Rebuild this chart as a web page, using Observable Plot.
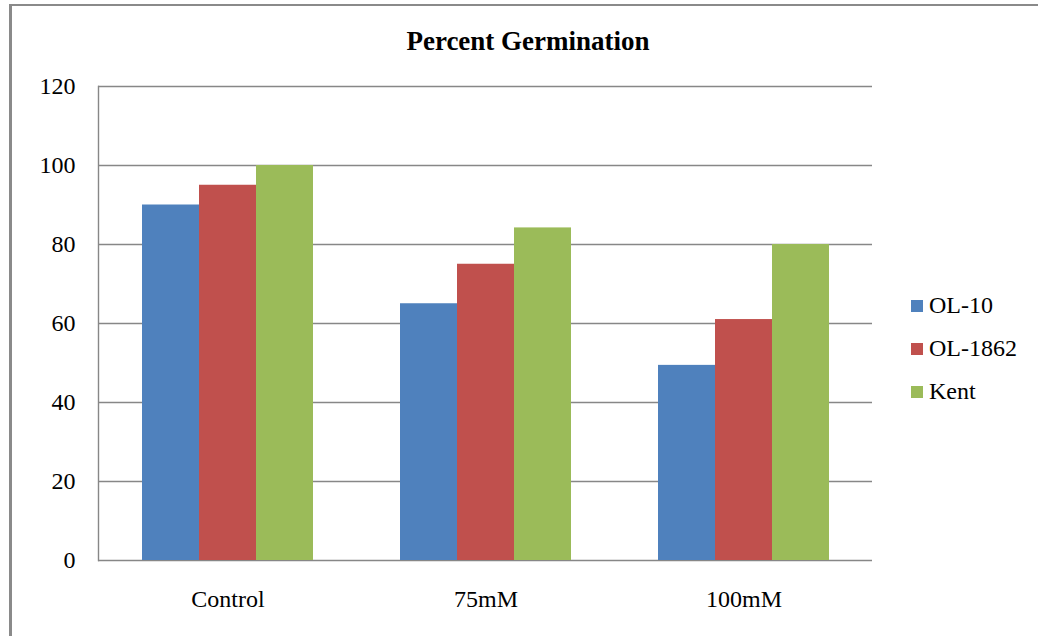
<!DOCTYPE html>
<html>
<head>
<meta charset="utf-8">
<script src="https://cdn.jsdelivr.net/npm/d3@7"></script>
<script src="https://cdn.jsdelivr.net/npm/@observablehq/plot@0.6"></script>
<style>
  html, body { margin: 0; padding: 0; background: #fff; }
  #chart { position: relative; width: 1038px; height: 636px; overflow: hidden; font-family: "Liberation Serif", "Times New Roman", serif; }
  #border { position: absolute; left: 9px; top: 4px; width: 1100px; height: 700px; border-left: 3px solid #8a8a8a; border-top: 2px solid #8a8a8a; box-sizing: border-box; }
  #title { position: absolute; left: 0; top: 28px; width: 1056px; text-align: center; font-size: 27px; line-height: 27px; font-weight: bold; color: #000; }
  #legend { position: absolute; left: 911px; top: 284px; }
  .item { display: flex; align-items: center; height: 43px; font-size: 24px; color: #000; }
  .swatch { width: 12px; height: 12px; margin-right: 6px; }
  .layer { position: absolute; left: 0; top: 0; }
</style>
</head>
<body>
<div id="chart">
  <div id="border"></div>
  <div id="grid" class="layer"></div>
  <div id="bars" class="layer"></div>
  <div id="title">Percent Germination</div>
  <div id="legend"></div>
</div>
<script>
// Treatments along the x axis and the three cultivars
const categories = ["Control", "75mM", "100mM"];
const series = ["OL-10", "OL-1862", "Kent"];
const colors = ["#4F81BD", "#C0504D", "#9BBB59"];

// Percent germination per cultivar, in treatment order
const ol10 = [90, 65, 49.4];
const ol1862 = [95, 75, 61];
const kent = [100, 84.2, 80];

const yTicks = [0, 20, 40, 60, 80, 100, 120];

const valuesBySeries = [ol10, ol1862, kent];
const rows = [];
categories.forEach((c, i) => {
  series.forEach((s, j) => rows.push({group: c, series: s, value: valuesBySeries[j][i]}));
});

const gridColor = "#878787";
const frame = {
  width: 1038,
  height: 636,
  marginLeft: 98,
  marginRight: 166,
  marginTop: 86,
  marginBottom: 76,
  style: {fontFamily: "Liberation Serif, Times New Roman, serif", fontSize: "24px", background: "transparent", color: "#000", overflow: "visible"}
};

// Back layer: gridlines, value axis and its left line
const grid = Plot.plot({
  ...frame,
  y: {domain: [0, 120], axis: null},
  marks: [
    Plot.ruleY(yTicks, {stroke: gridColor, strokeWidth: 1.4}),
    Plot.frame({anchor: "left", stroke: gridColor, strokeWidth: 1.4}),
    Plot.axisY({ticks: yTicks, tickSize: 0, tickPadding: 23, fontSize: 24, label: null, fill: "#000"})
  ]
});
document.getElementById("grid").appendChild(grid);

// Front layer: grouped bars, one facet per treatment
const bars = Plot.plot({
  ...frame,
  fx: {domain: categories, paddingInner: 0.33, paddingOuter: 0.165, label: null},
  x: {domain: series, padding: 0, axis: null},
  y: {domain: [0, 120], axis: null},
  color: {domain: series, range: colors},
  marks: [
    Plot.barY(rows, {fx: "group", x: "series", y: "value", fill: "series"}),
    Plot.axisFx({anchor: "bottom", tickSize: 0, tickPadding: 29, fontSize: 24, label: null, fill: "#000"})
  ]
});
document.getElementById("bars").appendChild(bars);

// Legend swatches
const legend = document.getElementById("legend");
series.forEach((s, j) => {
  const item = document.createElement("div");
  item.className = "item";
  const sw = document.createElement("div");
  sw.className = "swatch";
  sw.style.background = colors[j];
  const label = document.createElement("span");
  label.textContent = s;
  item.appendChild(sw);
  item.appendChild(label);
  legend.appendChild(item);
});
</script>
</body>
</html>
